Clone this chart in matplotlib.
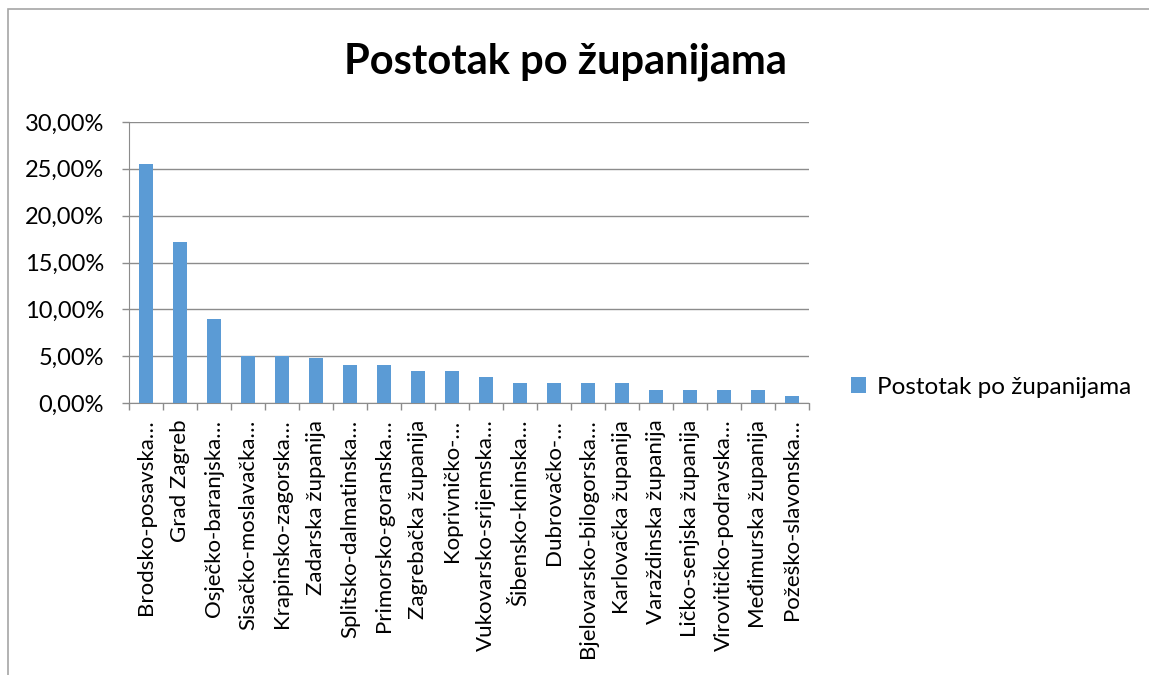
import matplotlib
matplotlib.use("Agg")
import matplotlib.pyplot as plt
from matplotlib.patches import Rectangle
import numpy as np

plt.rcParams["font.family"] = ["Lato", "DejaVu Sans"]

title = "Postotak po županijama"
series_name = "Postotak po županijama"

zupanije = [
    "Brodsko-posavska…", "Grad Zagreb", "Osječko-baranjska…",
    "Sisačko-moslavačka…", "Krapinsko-zagorska…", "Zadarska županija",
    "Splitsko-dalmatinska…", "Primorsko-goranska…", "Zagrebačka županija",
    "Koprivničko-…", "Vukovarsko-srijemska…", "Šibensko-kninska…",
    "Dubrovačko-…", "Bjelovarsko-bilogorska…", "Karlovačka županija",
    "Varaždinska županija", "Ličko-senjska županija", "Virovitičko-podravska…",
    "Međimurska županija", "Požeško-slavonska…",
]
postotak = [25.5, 17.2, 9.0, 5.0, 5.0, 4.8, 4.1, 4.1, 3.4, 3.4,
            2.8, 2.1, 2.1, 2.1, 2.1, 1.4, 1.4, 1.4, 1.4, 0.7]
y_ticks = [0, 5, 10, 15, 20, 25, 30]

W, H = 1149, 675
fig = plt.figure(figsize=(W / 100, H / 100), dpi=100)

# chart area border (only left and top visible)
fig.add_artist(Rectangle((8 / W, -0.05), 1.1, 1 - 9 / H + 0.05,
                         transform=fig.transFigure, fill=False,
                         edgecolor="#a6a6a6", linewidth=1.2))

ax = fig.add_axes([129 / W, 1 - 403 / H, (809 - 129) / W, (403 - 122) / H])

x = np.arange(len(zupanije))
ax.bar(x, postotak, width=0.41, color="#5B9BD5", label=series_name, zorder=3)

ax.set_xlim(-0.5, len(zupanije) - 0.5)
ax.set_ylim(0, 30)
ax.set_yticks(y_ticks)
ax.set_yticklabels([f"{v:.2f}%".replace(".", ",") for v in y_ticks], fontsize=17)
ax.yaxis.grid(True, color="#8c8c8c", linewidth=1, zorder=0)

ax.set_xticks(x)
ax.set_xticklabels(zupanije, rotation=90, fontsize=16)
ax.set_xticks(np.arange(len(zupanije) + 1) - 0.5, minor=True)
ax.tick_params(axis="x", which="major", length=0, pad=12)
ax.tick_params(axis="x", which="minor", length=5, color="#8c8c8c", width=1)
ax.tick_params(axis="y", length=5, color="#8c8c8c", width=1, pad=13)

for side in ["top", "right"]:
    ax.spines[side].set_visible(False)
ax.spines["left"].set_color("#8c8c8c")
ax.spines["bottom"].set_color("#8c8c8c")

fig.text(565 / W, 1 - 62 / H, title, fontsize=30, fontweight="bold",
         ha="center", va="center")

ax.legend(loc="center left", bbox_to_anchor=(851 / W, 1 - 387 / H),
          bbox_transform=fig.transFigure, frameon=False, fontsize=17.5,
          handlelength=0.6, handleheight=0.6, handletextpad=0.45,
          borderpad=0, borderaxespad=0)

fig.savefig("out.png", dpi=100)
